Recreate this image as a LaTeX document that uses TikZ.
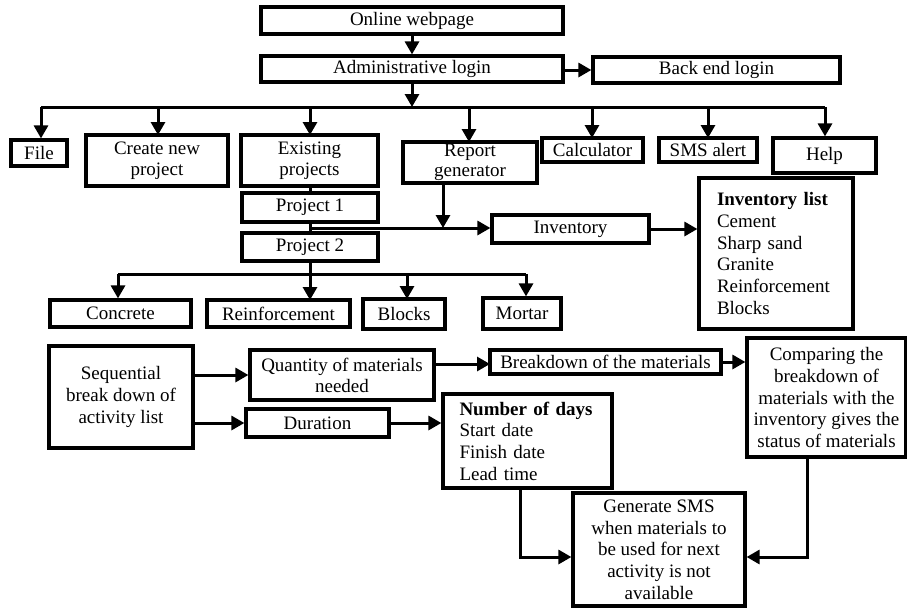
\documentclass[tikz,border=0pt]{standalone}
\usepackage{fontspec}
\setmainfont{Liberation Serif}
\usetikzlibrary{arrows.meta}
\begin{document}
\begin{tikzpicture}[x=1pt,y=-1pt,
  bx/.style={draw, line width=3.2pt, inner sep=0pt, align=center, font=\fontsize{19}{21}\selectfont},
  ln/.style={line width=3pt},
  ar/.style={line width=3pt, -{Triangle[length=13pt,width=14pt]}}]
\useasboundingbox (0,0) rectangle (907,608);
% top
\node[bx, minimum width=302pt, minimum height=27pt] (web) at (412,20.5) {Online webpage};
\node[bx, minimum width=302pt, minimum height=26pt] (admin) at (412,69) {Administrative login};
\node[bx, minimum width=247pt, minimum height=26pt] (back) at (716.5,70) {Back end login};
\node[bx, minimum width=56pt, minimum height=26pt] (file) at (39,153) {File};
\node[bx, minimum width=142pt, minimum height=51pt] (create) at (157,160.5) {Create new\\project};
\node[bx, minimum width=137pt, minimum height=51pt] (exist) at (309.5,160.5) {Existing\\projects};
\node[bx, minimum width=134pt, minimum height=41pt, font=\fontsize{19}{20}\selectfont] (report) at (470,162.5) {Report\\generator};
\node[bx, minimum width=101pt, minimum height=24pt] (calc) at (592.5,150) {Calculator};
\node[bx, minimum width=98pt, minimum height=24pt] (sms) at (708,150) {SMS alert};
\node[bx, minimum width=103pt, minimum height=35pt] (help) at (824.5,155.5) {Help};
\node[bx, minimum width=136pt, minimum height=29pt] (p1) at (310,207.5) {Project 1};
\node[bx, minimum width=136pt, minimum height=28pt] (p2) at (310,247) {Project 2};
\node[bx, minimum width=157pt, minimum height=28pt] (inv) at (570.5,229) {Inventory};
\node[bx, minimum width=154pt, minimum height=151pt, text width=118pt, align=left, font=\fontsize{19}{21.7}\selectfont] (invlist) at (776,253.5) {\textbf{Inventory list}\\Cement\\Sharp sand\\Granite\\Reinforcement\\Blocks};
\node[bx, minimum width=141pt, minimum height=27pt] (conc) at (120.5,313.5) {Concrete};
\node[bx, minimum width=143pt, minimum height=27pt] (reinf) at (278.5,313.5) {Reinforcement};
\node[bx, minimum width=82pt, minimum height=30pt] (blocks) at (404,314) {Blocks};
\node[bx, minimum width=78pt, minimum height=31pt] (mortar) at (522,313.5) {Mortar};
% bottom
\node[bx, minimum width=144pt, minimum height=102pt, font=\fontsize{19}{22}\selectfont] (seq) at (121,397) {Sequential\\break down of\\activity list};
\node[bx, minimum width=184pt, minimum height=50pt] (qty) at (342,375) {Quantity of materials\\needed};
\node[bx, minimum width=143pt, minimum height=28pt] (dur) at (317.5,423) {Duration};
\node[bx, minimum width=169pt, minimum height=94pt, text width=136pt, align=left, font=\fontsize{19}{21.7}\selectfont] (num) at (527.5,441) {\textbf{Number of days}\\Start date\\Finish date\\Lead time};
\node[bx, minimum width=231pt, minimum height=24pt] (brk) at (605.5,362) {Breakdown of the materials};
\node[bx, minimum width=159pt, minimum height=119pt, font=\fontsize{19}{21.7}\selectfont] (cmp) at (826.5,397.5) {Comparing the\\breakdown of\\materials with the\\inventory gives the\\status of materials};
\node[bx, minimum width=172pt, minimum height=113pt, font=\fontsize{19}{21.7}\selectfont] (gen) at (659,549.5) {Generate SMS\\when materials to\\be used for next\\activity is not\\available};
% coordinates
\coordinate (busL) at (41,107);
\coordinate (busR) at (825,107);
\coordinate (bus2L) at (118,274);
\coordinate (bus2R) at (526,274);
\coordinate (pj) at (310,228);
\coordinate (cmpc) at (807,557);
\coordinate (numc) at (520,557);
% connectors top
\draw[ar] (web) -- (admin);
\draw[ar] (admin.east |- back.west) -- (back.west);
\draw[ar] (admin.south) -- (412,107);
\draw[ln] (busL) -- (busR);
\draw[ar] (busL) -- (busL |- file.north);
\draw[ar] (158,107) -- (158,135);
\draw[ar] (310,107) -- (310,135);
\draw[ar] (469,107) -- (469,142);
\draw[ar] (592,107) -- (592,138);
\draw[ar] (708,107) -- (708,138);
\draw[ar] (busR) -- (busR |- help.north);
\draw[ln] (exist.south -| p1.north) -- (p1.north);
\draw[ln] (p1.south) -- (p2.north);
\draw[ar] (pj) -- (inv.west |- pj);
\draw[ar] (443,183) -- (443,228);
\draw[ar] (inv.east) -- (invlist.west |- inv.east);
\draw[ln] (p2.south) -- (310,274);
\draw[ln] (bus2L) -- (bus2R);
\draw[ar] (bus2L) -- (bus2L |- conc.north);
\draw[ar] (310,274) -- (310,300);
\draw[ar] (407,274) -- (407,299);
\draw[ar] (bus2R) -- (bus2R |- mortar.north);
% connectors bottom
\draw[ar] (193,375) -- (qty.west);
\draw[ar] (193,423) -- (dur.west |- 0,423);
\draw[ar] (dur.east) -- (num.west |- dur.east);
\draw[ar] (434,364) -- (490,364);
\draw[ar] (brk.east) -- (cmp.west |- brk.east);
\draw[ar] (cmpc |- cmp.south) -- (cmpc) -- (gen.east |- cmpc);
\draw[ar] (numc |- num.south) -- (numc) -- (gen.west |- numc);
\end{tikzpicture}
\end{document}
